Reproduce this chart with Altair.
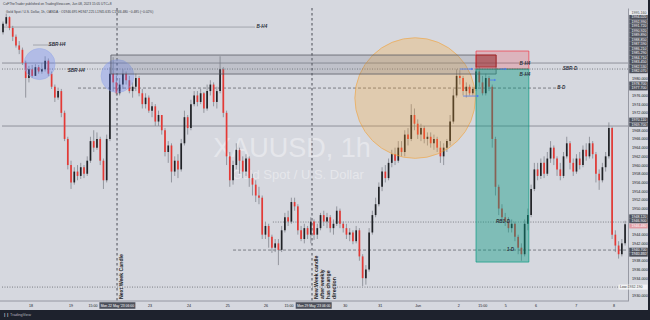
import altair as alt
import pandas as pd

# ---------------- candle data (XAUUSD) ----------------
first_open = 1990.5
close = [1992.5, 1994.0, 1991.5, 1989.5, 1987.5, 1986.5, 1983.5, 1980.0, 1982.0, 1980.5,
         1982.5, 1981.5, 1982.0, 1984.0, 1981.0, 1978.0, 1975.5, 1977.0, 1972.0, 1966.0,
         1960.0, 1956.0, 1958.5, 1957.5, 1959.5, 1958.0, 1961.0, 1965.5, 1964.0, 1966.0,
         1961.0, 1956.5, 1966.0, 1981.0, 1979.0, 1976.5, 1978.5, 1981.0, 1979.5, 1977.0,
         1978.0, 1980.0, 1976.5, 1974.0, 1975.5, 1972.5, 1973.5, 1970.0, 1971.5, 1968.0,
         1963.0, 1964.5, 1958.5, 1961.0, 1959.0, 1965.0, 1971.0, 1968.5, 1974.0, 1976.0,
         1974.5, 1976.5, 1973.0, 1977.0, 1978.5, 1974.5, 1977.0, 1982.0, 1972.0, 1962.0,
         1956.5, 1960.0, 1963.5, 1961.0, 1958.5, 1961.5, 1957.0, 1955.5, 1953.0, 1952.5,
         1944.0, 1946.0, 1943.5, 1941.0, 1942.0, 1940.5, 1945.0, 1948.0, 1947.0, 1951.5,
         1950.5, 1945.0, 1943.0, 1945.5, 1944.0, 1947.0, 1944.0, 1945.5, 1948.5, 1947.0,
         1948.0, 1945.5, 1946.5, 1949.5, 1946.5, 1945.5, 1944.0, 1944.5, 1942.5, 1945.0,
         1939.0, 1934.0, 1936.0, 1944.5, 1948.5, 1951.0, 1955.0, 1958.5, 1957.0, 1960.5,
         1962.5, 1961.0, 1964.0, 1963.0, 1967.0, 1966.0, 1971.5, 1969.5, 1967.0, 1968.5,
         1966.0, 1966.5, 1965.0, 1966.0, 1964.0, 1962.0, 1964.0, 1965.5, 1970.0, 1976.0,
         1980.5, 1980.0, 1977.0, 1978.0, 1976.5, 1977.5, 1981.5, 1979.0, 1976.5, 1980.0,
         1978.0, 1966.0, 1955.0, 1950.0, 1948.0, 1947.0, 1945.5, 1946.5, 1943.5, 1941.0,
         1939.5, 1946.5, 1948.5, 1954.5, 1959.0, 1957.5, 1960.5, 1958.0, 1961.5, 1964.0,
         1961.5, 1959.0, 1957.5, 1962.0, 1965.0, 1960.5, 1958.5, 1961.5, 1960.0, 1963.5,
         1962.0, 1965.0, 1962.5, 1958.0, 1956.5, 1959.5, 1962.0, 1968.5, 1944.0, 1941.5,
         1939.5, 1942.0, 1946.4]
high = [1993.0, 1994.8, 1994.2, 1992.0, 1990.0, 1988.5, 1987.0, 1984.0, 1982.8, 1983.0,
        1983.2, 1983.0, 1983.5, 1985.0, 1984.5, 1981.5, 1978.5, 1977.8, 1977.5, 1972.5,
        1966.5, 1961.0, 1959.5, 1960.0, 1960.5, 1960.0, 1962.0, 1966.5, 1968.0, 1967.5,
        1966.5, 1961.5, 1967.0, 1982.5, 1984.8, 1980.5, 1980.0, 1982.0, 1981.5, 1980.5,
        1979.0, 1981.0, 1980.5, 1977.5, 1976.5, 1976.0, 1974.5, 1974.0, 1972.5, 1971.5,
        1968.5, 1965.5, 1965.0, 1962.0, 1962.5, 1966.0, 1972.5, 1971.5, 1975.0, 1977.0,
        1977.0, 1977.5, 1976.8, 1978.5, 1979.5, 1979.0, 1978.0, 1985.0, 1982.5, 1972.5,
        1963.0, 1961.0, 1965.0, 1964.0, 1962.0, 1962.5, 1962.0, 1958.0, 1956.5, 1955.0,
        1953.0, 1947.0, 1946.5, 1944.0, 1943.0, 1943.0, 1946.0, 1949.0, 1949.5, 1952.5,
        1952.5, 1951.0, 1946.0, 1946.5, 1946.0, 1948.0, 1947.5, 1946.5, 1949.0, 1949.5,
        1949.0, 1948.5, 1947.5, 1950.5, 1950.0, 1947.0, 1946.5, 1945.5, 1945.0, 1946.0,
        1945.5, 1939.5, 1937.0, 1945.5, 1949.5, 1952.5, 1956.0, 1959.5, 1960.0, 1961.5,
        1963.5, 1964.0, 1965.5, 1965.5, 1968.0, 1968.5, 1974.0, 1973.0, 1970.5, 1969.5,
        1969.0, 1967.5, 1967.5, 1967.0, 1966.5, 1965.5, 1965.0, 1966.0, 1971.5, 1977.5,
        1982.0, 1981.8, 1980.5, 1979.0, 1978.5, 1978.0, 1983.5, 1982.5, 1980.5, 1981.0,
        1980.5, 1978.5, 1966.5, 1955.5, 1951.0, 1949.0, 1948.0, 1947.5, 1947.0, 1944.0,
        1942.0, 1947.5, 1950.0, 1955.5, 1960.5, 1960.5, 1961.5, 1962.0, 1963.0, 1965.5,
        1964.5, 1962.0, 1960.5, 1963.0, 1966.5, 1965.5, 1961.5, 1962.5, 1963.0, 1964.5,
        1965.0, 1966.5, 1965.5, 1963.0, 1959.0, 1960.5, 1963.0, 1969.8, 1968.8, 1945.0,
        1942.5, 1943.0, 1947.2]
low = [1990.0, 1992.0, 1991.0, 1988.5, 1987.0, 1985.5, 1983.0, 1975.5, 1979.0, 1980.0,
       1980.5, 1981.0, 1981.0, 1981.5, 1980.5, 1977.5, 1974.5, 1975.0, 1971.0, 1965.5,
       1959.0, 1954.5, 1955.5, 1956.5, 1956.8, 1957.0, 1957.5, 1960.5, 1963.0, 1963.5,
       1960.0, 1954.5, 1956.0, 1965.5, 1977.0, 1976.0, 1976.0, 1977.5, 1978.5, 1976.5,
       1975.5, 1977.0, 1975.8, 1973.0, 1973.0, 1972.0, 1971.0, 1969.0, 1969.0, 1967.0,
       1962.0, 1960.5, 1956.0, 1957.5, 1957.0, 1958.5, 1964.5, 1967.0, 1968.0, 1973.5,
       1973.5, 1974.0, 1972.0, 1972.5, 1976.0, 1973.5, 1973.0, 1976.5, 1971.0, 1960.0,
       1955.0, 1955.5, 1959.0, 1958.0, 1957.0, 1957.5, 1955.0, 1953.0, 1951.5, 1951.0,
       1943.0, 1943.0, 1941.0, 1939.8, 1940.0, 1937.0, 1940.0, 1944.5, 1946.0, 1946.5,
       1949.5, 1944.0, 1942.5, 1942.0, 1943.0, 1942.0, 1942.8, 1943.0, 1945.0, 1946.0,
       1945.5, 1944.5, 1944.0, 1946.0, 1945.5, 1944.5, 1943.0, 1942.5, 1941.8, 1942.0,
       1938.0, 1932.2, 1932.5, 1935.5, 1944.0, 1948.0, 1950.5, 1954.0, 1956.0, 1956.5,
       1959.5, 1960.0, 1960.5, 1962.0, 1962.0, 1964.5, 1965.5, 1968.0, 1966.0, 1965.5,
       1965.0, 1964.5, 1964.0, 1963.5, 1963.0, 1960.5, 1960.0, 1963.0, 1964.5, 1969.5,
       1975.5, 1978.5, 1976.0, 1975.5, 1976.0, 1976.0, 1977.0, 1978.0, 1976.0, 1976.0,
       1977.0, 1964.0, 1953.0, 1948.5, 1947.0, 1946.0, 1944.5, 1944.5, 1942.5, 1939.5,
       1938.0, 1939.0, 1945.0, 1948.0, 1954.0, 1956.5, 1956.8, 1957.0, 1957.5, 1960.5,
       1960.0, 1957.5, 1956.5, 1957.0, 1961.5, 1959.0, 1957.5, 1958.0, 1959.0, 1959.5,
       1961.0, 1961.5, 1961.5, 1956.0, 1954.3, 1956.0, 1958.5, 1961.5, 1943.0, 1940.0,
       1938.5, 1939.0, 1941.5]

# price-axis labels (those not hidden behind drawing labels) and time-axis labels
price_ticks = [1930, 1934, 1936, 1938, 1942, 1944, 1950, 1952, 1954, 1956, 1958, 1960,
               1962, 1964, 1966, 1968, 1972, 1974, 1976, 1980]
day_pos = [8.64, 20.99, 27.8, 45.4, 57.4, 69.4, 81.2, 88.3, 105.6, 116.4, 128.1, 140.7, 148.1, 155.2, 164.5, 176.9, 188.6]
day_txt = ["18", "19", "15:00", "23", "24", "25", "26", "15:00", "30", "31", "Jun", "2", "15:00", "5", "6", "7", "8"]

# drawings (bar index / price)
hl_solid = [1983.45, 1968.97]
boxes = pd.DataFrame({
    "x1": [33.3, 146.0, 146.0, 146.0],
    "x2": [152.2, 162.3, 162.3, 152.2],
    "p1": [1985.29, 1986.21, 1982.07, 1985.29],
    "p2": [1980.92, 1982.07, 1937.70, 1982.53],
    "fill": ["#6e7080", "#f23645", "#089981", "#9c2a2a"],
    "op": [0.22, 0.22, 0.42, 0.5],
    "stroke": ["#4a4d57", "#f23645", "#089981", "#b71c1c"],
})
circles = pd.DataFrame({
    "i": [127.2, 11.27, 35.34],
    "p": [1975.40, 1983.22, 1980.46],
    "size": [14527, 962, 1075],
    "fill": ["#ffa726", "#5c7cfa", "#5c7cfa"],
    "stroke": ["#f59a23", "#8fa3ea", "#8fa3ea"],
    "op": [0.36, 0.42, 0.42],
})
seg = pd.DataFrame({
    "x1": [-0.31, 9.26, 23.15, 83.3, 71.0, -0.31, -0.31],
    "x2": [77.8, 16.05, 171.9, 192.9, 192.9, 192.9, 192.9],
    "p": [1991.72, 1987.59, 1977.70, 1946.90, 1940.46, 1982.07, 1931.95],
    "style": ["solid", "solid", "dash", "dot", "dash", "dot", "dot"],
})
tags = pd.DataFrame({
    "i": [79.9, 16.7, 22.6, 161.1, 161.1, 175.0, 172.3, 154.3, 156.6],
    "p": [1991.72, 1987.59, 1981.72, 1983.22, 1980.70, 1982.07, 1977.70, 1946.90, 1940.46],
    "t": ["B-H4", "SBR-H4", "SBR-H4", "B-H4", "B-H4", "SBR-D", "B-D", "RB1-D", "1-D"],
})
arrows = pd.DataFrame({
    "x1": [141.0, 142.0, 150.3, 153.4],
    "x2": [144.8, 146.6, 151.9, 155.2],
    "p": [1982.07, 1975.86, 1979.54, 1982.07],
})
vlines = [35.19, 95.37]
notes1 = ["Next Week Candle"]
notes2 = ["New Week candle", "after weekly", "has change", "direction"]

# right-axis drawing labels (stacked as TradingView shows them)
stack_p = [1994.02, 1992.99, 1991.95, 1990.92, 1989.89, 1988.85, 1987.82, 1986.78, 1985.75,
           1984.71, 1983.68, 1982.64, 1981.61, 1978.70, 1977.66, 1970.40, 1969.30,
           1948.16, 1947.13, 1940.50, 1939.45]
stack_t = ["1994.020", "1992.990", "1991.720", "1990.920", "1989.890", "1988.850", "1987.590",
           "1986.210", "1985.290", "1984.710", "1983.450", "1982.530", "1982.070", "1978.700",
           "1977.700", "1970.110", "1969.700", "1948.120", "1946.900", "1940.700", "1940.460"]

# ---------------- build ----------------
W, H = 626, 293
BG = "#d6d8df"
TXT = "#131722"
FONT = "Liberation Sans"
XD = [-0.31, 192.9]
YD = [1928.75, 1996.1]
xs = alt.Scale(domain=XD, nice=False, zero=False)
ys = alt.Scale(domain=YD, nice=False, zero=False)

n = len(close)
opens = [first_open] + close[:-1]
cd = pd.DataFrame({"i": list(range(n)), "o": opens, "c": close, "h": high, "l": low})
cd["h"] = cd[["h", "o", "c"]].max(axis=1)
cd["l"] = cd[["l", "o", "c"]].min(axis=1)
cd["up"] = cd["c"] >= cd["o"]

X = lambda f: alt.X(f, type="quantitative", scale=xs, axis=None)
Y = lambda f: alt.Y(f, type="quantitative", scale=ys, axis=None)
PX = lambda f: alt.X(f, type="quantitative", scale=None, axis=None)
PY = lambda f: alt.Y(f, type="quantitative", scale=None, axis=None)

col = alt.condition("datum.up", alt.value("#202226"), alt.value("#e53935"))

base = alt.Chart(cd)
axis_layer = base.mark_rule(opacity=0).encode(
    x=X("i"),
    y=alt.Y("h:Q", scale=ys, axis=alt.Axis(orient="right", values=price_ticks, format=".3f",
            labelFontSize=3.8, labelColor=TXT, labelFont=FONT, ticks=False, grid=False,
            domain=True, domainColor="#868993", domainWidth=0.8, labelPadding=3.5,
            title=None, labelOverlap=False)),
)
wick = base.mark_rule(strokeWidth=0.7, color="#777a83").encode(x=X("i"), y=Y("l"), y2="h:Q")
body = base.mark_rule(strokeWidth=1.7).encode(x=X("i"), y=Y("o"), y2="c:Q", color=col)

hl_df = pd.DataFrame({"p": hl_solid})
hlines = alt.Chart(hl_df).mark_rule(color="#7d808a", strokeWidth=0.8).encode(
    y=Y("p"), x=alt.value(0), x2=alt.value(W))

segs = []
for st, dash, c in [("solid", [], "#8d9099"), ("dash", [3, 2], "#55585f"), ("dot", [1, 1.5], "#55585f")]:
    d = seg[seg["style"] == st]
    m = alt.Chart(d).mark_rule(strokeWidth=0.7, color=c, strokeDash=dash) if dash else \
        alt.Chart(d).mark_rule(strokeWidth=0.7, color=c)
    segs.append(m.encode(x=X("x1"), x2="x2:Q", y=Y("p")))

vl = alt.Chart(pd.DataFrame({"i": vlines})).mark_rule(color="#3a3d45", strokeWidth=0.9,
                                                      strokeDash=[2.5, 2.5]).encode(
    x=X("i"), y=alt.value(0), y2=alt.value(H))

box = alt.Chart(boxes).mark_rect(strokeWidth=0.7).encode(
    x=X("x1"), x2="x2:Q", y=Y("p1"), y2="p2:Q",
    fill=alt.Fill("fill:N", scale=None), stroke=alt.Stroke("stroke:N", scale=None),
    fillOpacity=alt.FillOpacity("op:Q", scale=None))

circ = alt.Chart(circles).mark_point(shape="circle", filled=False, strokeWidth=0.8).encode(
    x=X("i"), y=Y("p"), size=alt.Size("size:Q", scale=None),
    fill=alt.Fill("fill:N", scale=None), stroke=alt.Stroke("stroke:N", scale=None),
    fillOpacity=alt.FillOpacity("op:Q", scale=None))

arr_line = alt.Chart(arrows).mark_rule(color="#4d7cf0", strokeWidth=0.8).encode(
    x=X("x1"), x2="x2:Q", y=Y("p"))
arr_head = alt.Chart(arrows).mark_point(shape="triangle-right", filled=True, size=6,
                                        color="#4d7cf0", opacity=1).encode(x=X("x2"), y=Y("p"))

tag = alt.Chart(tags).mark_text(fontSize=4.6, font=FONT, color="#2a2e39", fontStyle="italic",
                                fontWeight="bold", align="center", baseline="middle").encode(
    x=X("i"), y=Y("p"), text="t:N")

# watermark
wm = alt.Chart(pd.DataFrame({"px": [290, 296], "py": [141, 167], "t": ["XAUUSD, 1h", "Gold Spot / U.S. Dollar"],
                             "fs": [27, 13]})).mark_text(
    font=FONT, color="#ffffff", opacity=0.38, align="center", baseline="middle").encode(
    x=PX("px"), y=PY("py"), text="t:N", size=alt.Size("fs:Q", scale=None))

# rotated notes
n1 = alt.Chart(pd.DataFrame({"i": [36.3], "t": notes1})).mark_text(
    angle=270, align="left", baseline="middle", fontSize=5.2, font=FONT, fontWeight="bold",
    color="#1c1e24").encode(x=X("i"), y=alt.value(H - 2), text="t:N")
n2 = alt.Chart(pd.DataFrame({"i": [96.5, 98.5, 100.4, 102.3], "t": notes2})).mark_text(
    angle=270, align="left", baseline="middle", fontSize=5.2, font=FONT, fontWeight="bold",
    color="#1c1e24").encode(x=X("i"), y=alt.value(H - 2), text="t:N")

# time axis
tsep = alt.Chart(pd.DataFrame({"a": [0]})).mark_rule(color="#868993", strokeWidth=0.8).encode(
    x=alt.value(-2), x2=alt.value(W), y=alt.value(H))
tlab = alt.Chart(pd.DataFrame({"i": day_pos, "t": day_txt})).mark_text(
    fontSize=3.6, font=FONT, color=TXT, baseline="middle").encode(x=X("i"), y=alt.value(H + 4.5), text="t:N")
tbox_df = pd.DataFrame({"i": [35.3, 95.9], "t": ["Mon 22 May '23   06:00", "Mon 29 May '23   06:00"]})
tbox = alt.Chart(tbox_df).mark_tick(orient="vertical", thickness=36, size=6.5, color="#131722").encode(
    x=X("i"), y=alt.value(H + 4.5))
tboxt = alt.Chart(tbox_df).mark_text(fontSize=3.4, font=FONT, color="#ffffff", baseline="middle").encode(
    x=X("i"), y=alt.value(H + 4.5), text="t:N")

# price axis drawing labels
sp = pd.DataFrame({"p": stack_p, "t": stack_t})
pbox = alt.Chart(sp).mark_tick(orient="horizontal", thickness=4.4, size=18.5, color="#131722").encode(
    y=Y("p"), x=alt.value(W + 10.5))
pboxt = alt.Chart(sp).mark_text(fontSize=3.6, font=FONT, color="#ffffff", align="left", baseline="middle").encode(
    y=Y("p"), x=alt.value(W + 3.5), text="t:N")
cur = pd.DataFrame({"p": [1945.98], "t": ["1946.480"]})
cbox = alt.Chart(cur).mark_tick(orient="horizontal", thickness=4.8, size=18.5, color="#e6838a").encode(
    y=Y("p"), x=alt.value(W + 10.5))
cboxt = alt.Chart(cur).mark_text(fontSize=3.6, font=FONT, color="#ffffff", align="left", baseline="middle").encode(
    y=Y("p"), x=alt.value(W + 3.5), text="t:N")
lowl = pd.DataFrame({"p": [1931.95], "t": ["Low   1932.190"]})
lbox = alt.Chart(lowl).mark_tick(orient="horizontal", thickness=5, size=29, color="#ffffff",
                                 ).encode(y=Y("p"), x=alt.value(W + 5))
lboxt = alt.Chart(lowl).mark_text(fontSize=3.6, font=FONT, color="#444", align="left", baseline="middle").encode(
    y=Y("p"), x=alt.value(W - 8), text="t:N")
topl = pd.DataFrame({"p": [1995.0], "t": ["1995.160"]})
tpbox = alt.Chart(topl).mark_tick(orient="horizontal", thickness=4.4, size=18.5, color="#f4f5f8").encode(
    y=Y("p"), x=alt.value(W + 10.5))
tpboxt = alt.Chart(topl).mark_text(fontSize=3.6, font=FONT, color="#444", align="left", baseline="middle").encode(
    y=Y("p"), x=alt.value(W + 3.5), text="t:N")

# header / legend / footer
hdr = alt.Chart(pd.DataFrame({
    "px": [1, 4], "py": [-4, 4],
    "t": ["CoFTheTrader published on TradingView.com, Jun 08, 2023 15:05 UTC+8",
          "Gold Spot / U.S. Dollar, 1h, OANDA  \u00b7  O1946.695 H1947.225 L1945.635 C1946.480 \u22120.485 (\u22120.02%)"]
})).mark_text(fontSize=3.3, font=FONT, color="#3b3e47", align="left", baseline="middle").encode(
    x=PX("px"), y=PY("py"), text="t:N")
foot = alt.Chart(pd.DataFrame({"a": [0]})).mark_rect(color="#1e222d").encode(
    x=alt.value(-2), x2=alt.value(648), y=alt.value(H + 9), y2=alt.value(H + 12 + 10))
rside = alt.Chart(pd.DataFrame({"a": [0]})).mark_rect(color="#1e222d").encode(
    x=alt.value(646), x2=alt.value(648), y=alt.value(-8), y2=alt.value(H + 12 + 10))
ftxt = alt.Chart(pd.DataFrame({"px": [1], "py": [H + 13.5], "t": ["\u2759\u2759 TradingView"]})).mark_text(
    fontSize=3.8, font=FONT, color="#b2b5be", align="left", baseline="middle").encode(
    x=PX("px"), y=PY("py"), text="t:N")

chart = alt.layer(
    axis_layer, hlines, *segs, vl, wm, wick, body, circ, box, arr_line, arr_head, tag, n1, n2,
    tsep, tlab, tbox, tboxt, pbox, pboxt, cbox, cboxt, lbox, lboxt, tpbox, tpboxt,
    hdr, foot, rside, ftxt,
).resolve_scale(x="independent", y="independent").properties(
    width=W, height=H, autosize=alt.AutoSizeParams(type="none"),
    padding={"left": 2, "top": 8, "right": 22, "bottom": 19},
    background=BG,
).configure_view(stroke=None, fill=BG)

chart.save("out.html", embed_options={"renderer": "svg", "actions": False})
